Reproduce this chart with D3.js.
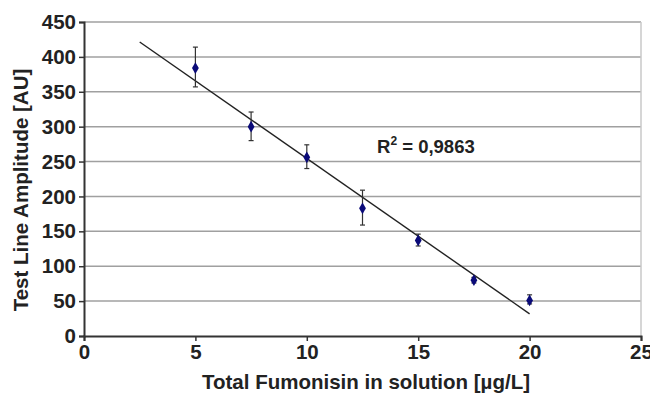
<!DOCTYPE html>
<html>
<head>
<meta charset="utf-8">
<script src="https://cdn.jsdelivr.net/npm/d3@7"></script>
<style>
  body { margin: 0; background: #fff; }
  svg text { font-family: "Liberation Sans", Arial, sans-serif; font-weight: bold; fill: #222; }
</style>
</head>
<body>
<svg class="chart" width="650" height="394"></svg>
<script>
// concentration (µg/L), amplitude (AU), error bar ends
const conc = [5, 7.5, 10, 12.5, 15, 17.5, 20];
const amplitude = [384, 300, 256, 183, 137, 80, 51];
const errHigh = [414, 321, 274, 209, 146, 84, 59];
const errLow = [357, 280, 240, 159, 129, 76, 46];
const xTicks = [0, 5, 10, 15, 20, 25];
const yTicks = [0, 50, 100, 150, 200, 250, 300, 350, 400, 450];
const trendFrom = 2.5, trendTo = 20;
const r2Label = "0,9863";

const svg = d3.select('svg.chart');
const margin = { left: 84, right: 9, top: 22, bottom: 58 };
const width = 650, height = 394;

const x = d3.scaleLinear().domain([0, 25]).range([margin.left, width - margin.right]);
const y = d3.scaleLinear().domain([0, 450]).range([height - margin.bottom, margin.top]);

// gridlines
svg.append('g')
  .selectAll('line')
  .data(yTicks.filter(d => d > 0))
  .join('line')
    .attr('x1', x(0)).attr('x2', x(25))
    .attr('y1', d => y(d)).attr('y2', d => y(d))
    .attr('stroke', '#a0a0a0').attr('stroke-width', 1.5);

// right border of plot area
svg.append('line')
  .attr('x1', x(25)).attr('x2', x(25))
  .attr('y1', y(450)).attr('y2', y(0))
  .attr('stroke', '#c8c8c8').attr('stroke-width', 1.5);

// axes
const xAxis = svg.append('g')
  .attr('transform', `translate(0,${y(0)})`)
  .call(d3.axisBottom(x).tickValues(xTicks).tickSize(5).tickPadding(3));
const yAxis = svg.append('g')
  .attr('transform', `translate(${x(0)},0)`)
  .call(d3.axisLeft(y).tickValues(yTicks).tickSize(5).tickPadding(3));

[xAxis, yAxis].forEach(g => {
  g.select('.domain').attr('stroke', '#333').attr('stroke-width', 2);
  g.selectAll('.tick line').attr('stroke', '#333').attr('stroke-width', 1.5);
  g.selectAll('.tick text')
    .attr('font-size', 20.5)
    .attr('font-family', '"Liberation Sans", Arial, sans-serif')
    .attr('font-weight', 'bold')
    .attr('fill', '#222');
});

// linear fit through the points
const mx = d3.mean(conc), my = d3.mean(amplitude);
const slope = d3.sum(conc, (c, i) => (c - mx) * (amplitude[i] - my)) / d3.sum(conc, c => (c - mx) ** 2);
const icpt = my - slope * mx;
svg.append('line')
  .attr('x1', x(trendFrom)).attr('y1', y(icpt + slope * trendFrom))
  .attr('x2', x(trendTo)).attr('y2', y(icpt + slope * trendTo))
  .attr('stroke', '#222').attr('stroke-width', 1.4);

// error bars
const eb = svg.append('g').attr('stroke', '#333').attr('stroke-width', 1.2);
conc.forEach((c, i) => {
  eb.append('line').attr('x1', x(c)).attr('x2', x(c)).attr('y1', y(errHigh[i])).attr('y2', y(errLow[i]));
  eb.append('line').attr('x1', x(c) - 2.5).attr('x2', x(c) + 2.5).attr('y1', y(errHigh[i])).attr('y2', y(errHigh[i]));
  eb.append('line').attr('x1', x(c) - 2.5).attr('x2', x(c) + 2.5).attr('y1', y(errLow[i])).attr('y2', y(errLow[i]));
});

// points
svg.append('g')
  .selectAll('path')
  .data(conc)
  .join('path')
    .attr('d', d3.symbol(d3.symbolDiamond, 40))
    .attr('transform', (c, i) => `translate(${x(c)},${y(amplitude[i])})`)
    .attr('fill', '#0a0a78');

// R² label
const r2 = svg.append('text').attr('x', 377).attr('y', 153).attr('font-size', 18.5);
r2.append('tspan').text('R');
r2.append('tspan').attr('font-size', 12).attr('dy', -8).text('2');
r2.append('tspan').attr('dy', 8).text(' = ' + r2Label);

// axis titles
svg.append('text')
  .attr('x', 366).attr('y', 389)
  .attr('text-anchor', 'middle').attr('font-size', 20.5)
  .text('Total Fumonisin in solution [µg/L]');
svg.append('text')
  .attr('transform', 'translate(28,190) rotate(-90)')
  .attr('text-anchor', 'middle').attr('font-size', 20.5)
  .text('Test Line Amplitude [AU]');
</script>
</body>
</html>
